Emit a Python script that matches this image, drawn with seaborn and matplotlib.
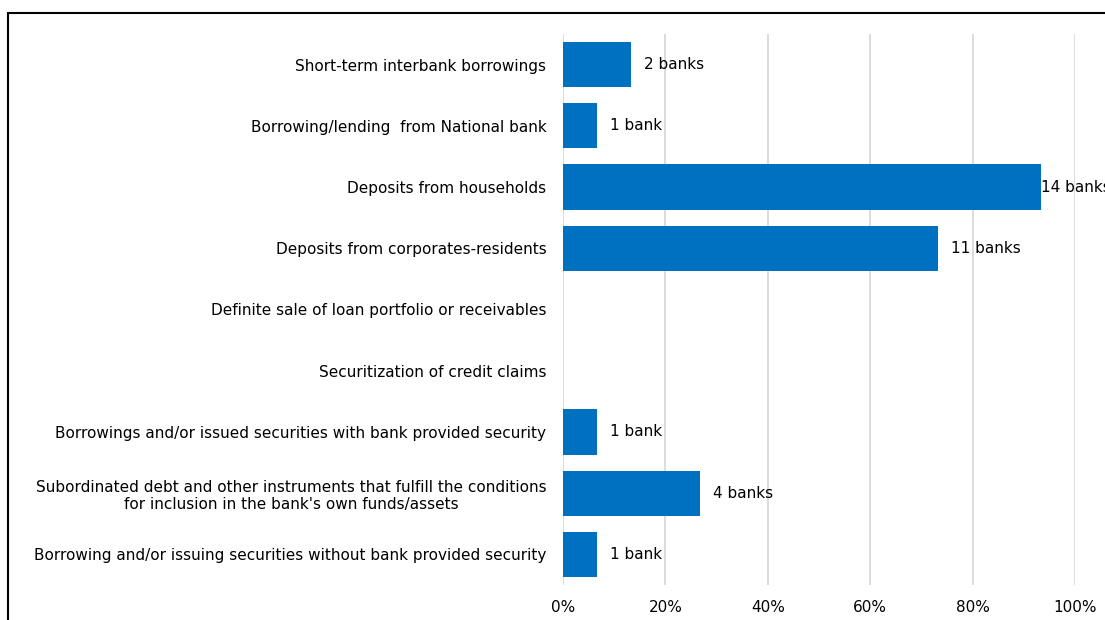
import matplotlib
matplotlib.use("Agg")
import matplotlib.pyplot as plt
import matplotlib.patches as mpatches
import seaborn as sns
import pandas as pd

# Funding sources and how many of the surveyed banks reported each one
categories = [
    "Short-term interbank borrowings",
    "Borrowing/lending  from National bank",
    "Deposits from households",
    "Deposits from corporates-residents",
    "Definite sale of loan portfolio or receivables",
    "Securitization of credit claims",
    "Borrowings and/or issued securities with bank provided security",
    "Subordinated debt and other instruments that fulfill the conditions\nfor inclusion in the bank's own funds/assets",
    "Borrowing and/or issuing securities without bank provided security",
]
bank_counts = [2, 1, 14, 11, 0, 0, 1, 4, 1]
total_banks = 15
bar_labels = ["2 banks", "1 bank", "14 banks", "11 banks", "", "",
              "1 bank", "4 banks", "1 bank"]
tick_values = [0, 0.2, 0.4, 0.6, 0.8, 1.0]
tick_labels = ["0%", "20%", "40%", "60%", "80%", "100%"]

df = pd.DataFrame({
    "category": categories,
    "share": [c / total_banks for c in bank_counts],
})

sns.set_theme(style="white")
plt.rcParams["font.family"] = ["DejaVu Sans"]
plt.rcParams["font.size"] = 11

fig = plt.figure(figsize=(11.05, 6.2), dpi=100)
ax = fig.add_axes([563 / 1105, 1 - 585 / 620, (1075 - 563) / 1105, (585 - 34) / 620])

sns.barplot(data=df, x="share", y="category", orient="h", color="#0070C0",
            saturation=1, width=0.74, linewidth=0, edgecolor="none",
            ax=ax, zorder=3)

ax.set_xlim(0, 1.0)
ax.set_ylim(len(categories) - 0.5, -0.5)
ax.set_xticks(tick_values)
ax.set_xticklabels(tick_labels, fontsize=11)
ax.grid(axis="x", color="#D9D9D9", linewidth=1.3, zorder=0)
ax.grid(axis="y", visible=False)
for side in ("top", "right", "bottom", "left"):
    ax.spines[side].set_visible(False)
ax.tick_params(axis="x", length=0, pad=11, colors="#000000")
ax.tick_params(axis="y", length=0, pad=12, colors="#000000", labelsize=11)
for lbl in ax.get_yticklabels():
    lbl.set_multialignment("center")
ax.set_xlabel("")
ax.set_ylabel("")

# Value labels to the right of each bar
for i, (share, text) in enumerate(zip(df["share"], bar_labels)):
    if not text:
        continue
    offset = 0 if share > 0.9 else 13
    ax.annotate(text, xy=(share, i), xytext=(offset, 0), textcoords="offset pixels",
                ha="left", va="center", fontsize=11, color="#000000",
                annotation_clip=False, zorder=4)

# Chart-area border
fig.add_artist(mpatches.Rectangle((8 / 1105, -0.2), 1.2, 1 - 13 / 620 + 0.2,
                                  transform=fig.transFigure, fill=False,
                                  edgecolor="#000000", linewidth=1.5))

fig.savefig("out.png", dpi=100)
